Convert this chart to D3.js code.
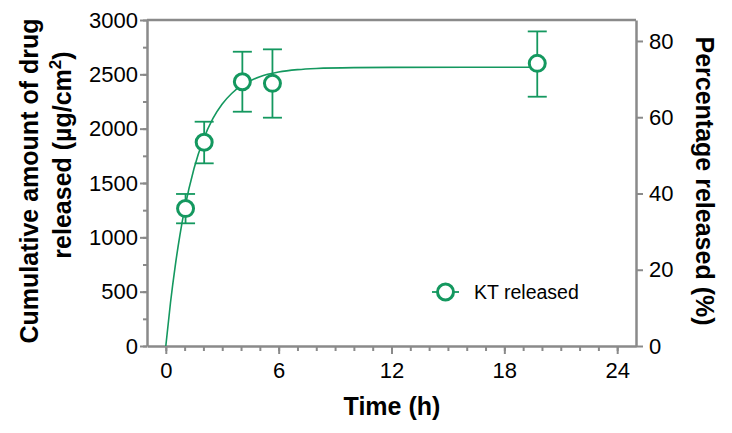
<!DOCTYPE html>
<html><head><meta charset="utf-8">
<script src="https://cdn.jsdelivr.net/npm/d3@7"></script>
<style>
html,body{margin:0;padding:0;background:#fff;}
svg{display:block;font-family:Arial,"Liberation Sans",sans-serif;}
</style></head>
<body>
<svg id="chart" width="732" height="433"></svg>
<script>
// ---- data ----
const times = [1.05, 2.04, 4.07, 5.67, 19.75];
const released = [1265, 1875, 2432, 2417, 2601];
const errLow = [1129, 1681, 2156, 2101, 2294];
const errHigh = [1399, 2064, 2708, 2730, 2895];
const fitTimes = [0, 0.25, 0.5, 0.75, 1, 1.5, 2, 2.5, 3, 3.5, 4, 5, 6, 7, 8, 10, 12, 16, 19.75];
const fitValues = [0, 400, 736, 1020, 1261, 1634, 1901, 2092, 2227, 2324, 2393, 2478, 2521, 2543, 2554, 2562, 2564, 2565, 2565];
const xTicks = [0, 6, 12, 18, 24];
const xMinorTicks = d3.range(0, 25, 1);
const yTicks = [0, 500, 1000, 1500, 2000, 2500, 3000];
const yMinorTicks = d3.range(0, 3001, 250);
const pctTicks = [0, 20, 40, 60, 80];
const seriesName = "KT released";

const green = "#14985f";
const gray = "#8a8a8a";
const svg = d3.select("#chart");

const x = d3.scaleLinear().domain([-1, 25]).range([147, 636]);
const y = d3.scaleLinear().domain([0, 3000]).range([346, 20]);
const yR = d3.scaleLinear().domain([0, 85.5]).range([346, 20]);

// minor ticks
const gxMinor = svg.append("g").attr("transform", "translate(0,346)")
  .call(d3.axisBottom(x).tickValues(xMinorTicks).tickSize(5).tickFormat(""));
const gyMinor = svg.append("g").attr("transform", "translate(147,0)")
  .call(d3.axisLeft(y).tickValues(yMinorTicks).tickSize(4).tickFormat(""));
[gxMinor, gyMinor].forEach(g => {
  g.select(".domain").remove();
  g.selectAll("line").attr("stroke", gray).attr("stroke-width", 2);
});

// major axes
const fmt = d3.format("d");
const gx = svg.append("g").attr("transform", "translate(0,346)")
  .call(d3.axisBottom(x).tickValues(xTicks).tickFormat(fmt).tickSize(8).tickPadding(8).tickSizeOuter(0));
const gy = svg.append("g").attr("transform", "translate(147,0)")
  .call(d3.axisLeft(y).tickValues(yTicks).tickFormat(fmt).tickSize(7).tickPadding(2).tickSizeOuter(0));
const gr = svg.append("g").attr("transform", "translate(636,0)")
  .call(d3.axisRight(yR).tickValues(pctTicks).tickFormat(fmt).tickSize(7).tickPadding(6).tickSizeOuter(0));
[gx, gy, gr].forEach(g => {
  g.select(".domain").attr("stroke", gray).attr("stroke-width", 2.5);
  g.selectAll(".tick line").attr("stroke", gray).attr("stroke-width", 2);
  g.selectAll(".tick text").attr("font-size", 22).attr("fill", "#000")
    .attr("font-family", "Arial, 'Liberation Sans', sans-serif");
});
// top frame line
svg.append("line").attr("x1", 147).attr("x2", 636).attr("y1", y(3000)).attr("y2", y(3000))
  .attr("stroke", gray).attr("stroke-width", 2.5);

// fit curve
const line = d3.line().x((d, i) => x(fitTimes[i])).y(d => y(d)).curve(d3.curveMonotoneX);
svg.append("path").datum(fitValues).attr("d", line)
  .attr("fill", "none").attr("stroke", green).attr("stroke-width", 1.6);

// error bars
const pts = times.map((t, i) => ({t, v: released[i], lo: errLow[i], hi: errHigh[i]}));
const eb = svg.append("g").attr("stroke", green).attr("stroke-width", 1.8).attr("fill", "none");
pts.forEach(p => {
  eb.append("line").attr("x1", x(p.t)).attr("x2", x(p.t)).attr("y1", y(p.lo)).attr("y2", y(p.hi));
  eb.append("line").attr("x1", x(p.t) - 9.5).attr("x2", x(p.t) + 9.5).attr("y1", y(p.lo)).attr("y2", y(p.lo));
  eb.append("line").attr("x1", x(p.t) - 9.5).attr("x2", x(p.t) + 9.5).attr("y1", y(p.hi)).attr("y2", y(p.hi));
});
svg.append("g").selectAll("circle").data(pts).join("circle")
  .attr("cx", d => x(d.t)).attr("cy", d => y(d.v)).attr("r", 8)
  .attr("fill", "#fff").attr("stroke", green).attr("stroke-width", 3);

// legend
const lg = svg.append("g");
lg.append("line").attr("x1", 432).attr("x2", 459).attr("y1", 292).attr("y2", 292)
  .attr("stroke", green).attr("stroke-width", 1.8);
lg.append("circle").attr("cx", 445.5).attr("cy", 292).attr("r", 8)
  .attr("fill", "#fff").attr("stroke", green).attr("stroke-width", 3);
lg.append("text").attr("x", 474).attr("y", 299).attr("font-size", 19.5).text(seriesName);

// axis titles
svg.append("text").attr("x", 392).attr("y", 415).attr("text-anchor", "middle")
  .attr("font-size", 25).attr("font-weight", "bold").text("Time (h)");
svg.append("text").attr("transform", "translate(38,181) rotate(-90)").attr("text-anchor", "middle")
  .attr("font-size", 25).attr("font-weight", "bold").text("Cumulative amount of drug");
const t2 = svg.append("text").attr("transform", "translate(71,155) rotate(-90)").attr("text-anchor", "middle")
  .attr("font-size", 25).attr("font-weight", "bold");
t2.append("tspan").text("released (µg/cm");
t2.append("tspan").attr("dy", -10).attr("font-size", 17).text("2");
t2.append("tspan").attr("dy", 10).text(")");
svg.append("text").attr("transform", "translate(696,181) rotate(90)").attr("text-anchor", "middle")
  .attr("font-size", 25).attr("font-weight", "bold").text("Percentage released (%)");
</script>
</body></html>
